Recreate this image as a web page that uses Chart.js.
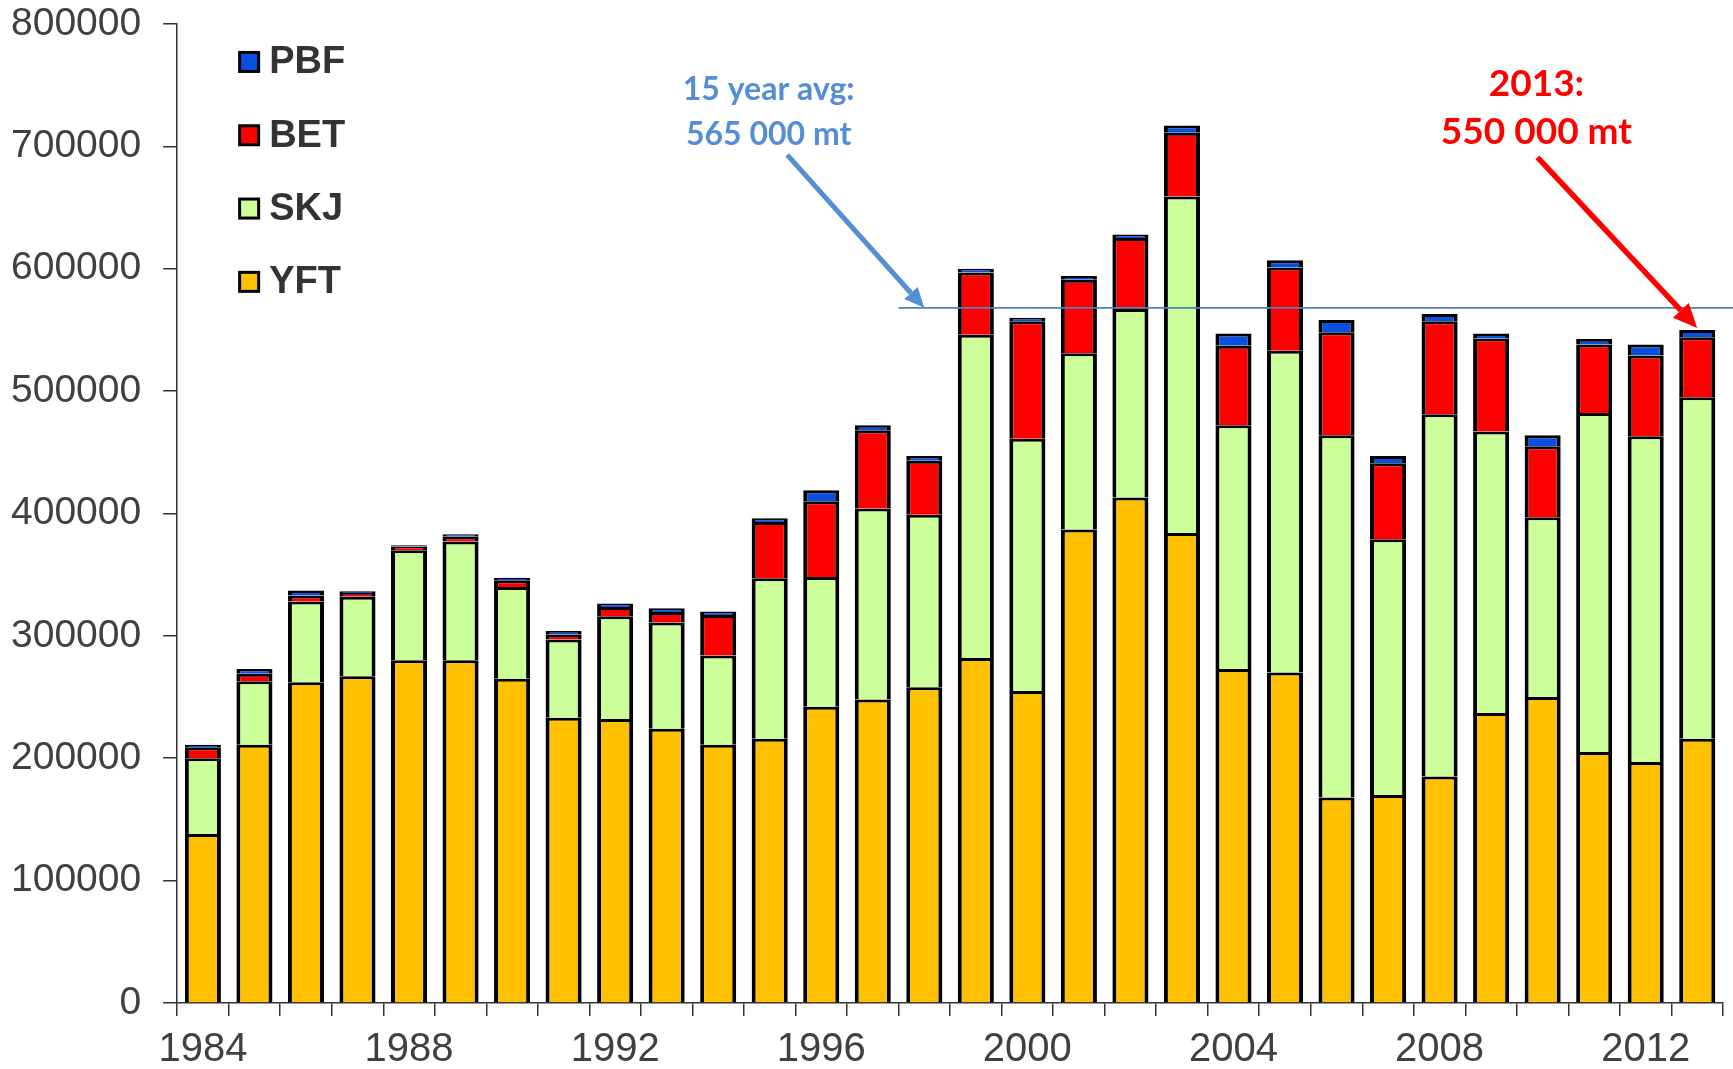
<!DOCTYPE html>
<html lang="en">
<head>
  <meta charset="UTF-8">
  <title>Catch by species, 1984-2013</title>
  <script src="https://cdn.jsdelivr.net/npm/chart.js"></script>
  <style>
    html, body { margin: 0; padding: 0; background: #fff; }
    .chart-container { width: 1733px; height: 1069px; }
  </style>
</head>
<body>
  <div class="chart-container">
    <canvas id="chart"></canvas>
  </div>

  <script>
    // catch in metric tonnes
    const years = ["1984","1985","1986","1987","1988","1989","1990","1991","1992","1993",
                   "1994","1995","1996","1997","1998","1999","2000","2001","2002","2003",
                   "2004","2005","2006","2007","2008","2009","2010","2011","2012","2013"];
    const yft = [138000,211000,262000,267000,280000,280000,265000,233000,232000,224000,
                 211000,216000,242000,248000,258000,282000,255000,387000,413000,384000,
                 273000,270000,168000,170000,185000,237000,250000,205000,197000,216000];
    const skj = [62000,52000,66000,65000,90000,97000,75000,64000,84000,87000,
                 73000,131000,106000,156000,141000,264000,206000,144000,154000,275000,
                 199000,263000,296000,209000,296000,230000,147000,277000,266000,279000];
    const bet = [9000,6000,5000,3000,3000,4000,5500,4000,7500,8500,
                 33000,46000,62000,64000,44000,51000,96000,60000,58000,52000,
                 65000,68000,84000,62000,76000,76000,58000,56000,66000,49000];
    const pbf = [2000,4000,4000,1500,1000,2000,2000,3000,3000,3000,
                 3000,3000,9000,4000,4000,3000,3000,3000,3000,6000,
                 10000,6000,10000,6000,6000,4000,9000,4500,9000,6000];
    const avgCatch = 568000;   // where the 15 year average line sits
    const avgFrom = "1998";
    const lastYear = "2013";
    const yTicks = [0,100000,200000,300000,400000,500000,600000,700000,800000];

    const blue = "#558ed5";
    const red = "#ff0000";

    function arrow(ctx, x1, y1, x2, y2, color, width, head) {
      const a = Math.atan2(y2 - y1, x2 - x1);
      const bx = x2 - head * Math.cos(a), by = y2 - head * Math.sin(a);
      ctx.strokeStyle = color;
      ctx.fillStyle = color;
      ctx.lineWidth = width;
      ctx.beginPath();
      ctx.moveTo(x1, y1);
      ctx.lineTo(bx, by);
      ctx.stroke();
      const hw = head * 0.45;
      ctx.beginPath();
      ctx.moveTo(x2, y2);
      ctx.lineTo(bx + hw * Math.sin(a), by - hw * Math.cos(a));
      ctx.lineTo(bx - hw * Math.sin(a), by + hw * Math.cos(a));
      ctx.closePath();
      ctx.fill();
    }

    const notes = {
      id: "notes",
      afterDatasetsDraw(chart) {
        const { ctx, scales: { x, y } } = chart;
        const total = i => yft[i] + skj[i] + bet[i] + pbf[i];
        const iAvg = years.indexOf(avgFrom);
        const iLast = years.indexOf(lastYear);
        ctx.save();

        // 15 year average line
        const avgY = y.getPixelForValue(avgCatch);
        ctx.strokeStyle = "#4f81bd";
        ctx.lineWidth = 1.6;
        ctx.beginPath();
        ctx.moveTo(x.getPixelForValue(iAvg - 0.5), avgY);
        ctx.lineTo(chart.width, avgY);
        ctx.stroke();

        arrow(ctx, x.getPixelForValue(11.34), y.getPixelForValue(693000),
              x.getPixelForValue(iAvg), avgY, blue, 5, 20);
        arrow(ctx, x.getPixelForValue(25.9), y.getPixelForValue(691000),
              x.getPixelForValue(iLast), y.getPixelForValue(total(iLast)) - 2, red, 5.5, 24);

        ctx.textAlign = "center";
        ctx.textBaseline = "alphabetic";
        ctx.fillStyle = blue;
        ctx.font = "bold 32px Lato";
        ctx.fillText("15 year avg:", x.getPixelForValue(10.98), y.getPixelForValue(738000));
        ctx.fillText("565 000 mt", x.getPixelForValue(10.98), y.getPixelForValue(701000));
        ctx.fillStyle = red;
        ctx.font = "bold 37px Lato";
        ctx.fillText("2013:", x.getPixelForValue(25.88), y.getPixelForValue(741000));
        ctx.fillText("550 000 mt", x.getPixelForValue(25.88), y.getPixelForValue(702000));

        // legend inside the plot, top species first
        const sets = chart.data.datasets.slice().reverse();
        ctx.textAlign = "left";
        ctx.textBaseline = "middle";
        ctx.font = "bold 38px 'Liberation Sans', Arial, sans-serif";
        sets.forEach((ds, k) => {
          const cy = chart.chartArea.top + 38 + k * 73.3;
          const bx = chart.chartArea.left + 61;
          ctx.fillStyle = "#000";
          ctx.fillRect(bx, cy - 11, 22, 22);
          ctx.fillStyle = ds.backgroundColor;
          ctx.fillRect(bx + 3, cy - 8, 16, 16);
          ctx.fillStyle = "#333";
          ctx.fillText(ds.label, bx + 31, cy + 1);
        });
        ctx.restore();
      }
    };

    const border = { top: 3, left: 4, right: 4, bottom: 0 };
    function series(label, data, color) {
      return {
        label: label,
        data: data,
        backgroundColor: color,
        borderColor: "#000",
        borderWidth: border,
        borderSkipped: false,
        barPercentage: 0.7,
        categoryPercentage: 1.0
      };
    }

    const ctx = document.getElementById("chart").getContext("2d");
    new Chart(ctx, {
      type: "bar",
      data: {
        labels: years,
        datasets: [
          series("YFT", yft, "#ffc000"),
          series("SKJ", skj, "#ccff99"),
          series("BET", bet, "#ff0000"),
          series("PBF", pbf, "#0a50e0")
        ]
      },
      options: {
        responsive: true,
        maintainAspectRatio: false,
        animation: false,
        layout: { padding: { left: -11, right: 10, top: 0, bottom: -15 } },
        plugins: {
          legend: { display: false },
          tooltip: { enabled: false }
        },
        scales: {
          x: {
            stacked: true,
            grid: { drawOnChartArea: false, drawTicks: true, tickLength: 13, color: "#333", lineWidth: 1.5, offset: true },
            border: { display: true, color: "#333", width: 1.5 },
            ticks: {
              autoSkip: false,
              maxRotation: 0,
              padding: 15,
              color: "#404040",
              font: { family: "'Liberation Sans', Arial, sans-serif", size: 40, lineHeight: 0.95 },
              callback: (v, i) => (i % 4 === 0 ? years[i] : "")
            }
          },
          y: {
            stacked: true,
            min: 0,
            max: 800000,
            afterBuildTicks: axis => { axis.ticks = yTicks.map(v => ({ value: v })); },
            grid: { drawOnChartArea: false, drawTicks: true, tickLength: 14, color: "#333", lineWidth: 1.5 },
            border: { display: true, color: "#333", width: 1.5 },
            ticks: {
              padding: 22,
              color: "#404040",
              font: { family: "'Liberation Sans', Arial, sans-serif", size: 39, lineHeight: 0.1 },
              callback: v => String(v)
            }
          }
        }
      },
      plugins: [notes]
    });
  </script>
</body>
</html>
